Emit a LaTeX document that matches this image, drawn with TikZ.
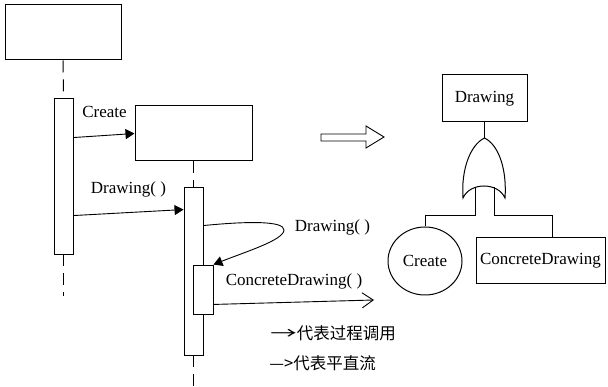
\documentclass[tikz,border=0pt]{standalone}
\usepackage{fontspec}
\usepackage{graphicx}
\setmainfont{Liberation Serif}
\newfontfamily\cjk{Noto Sans CJK SC}
\usetikzlibrary{arrows.meta,calc,shapes.geometric}
\begin{document}
\begin{tikzpicture}[x=1pt,y=-1pt,
  line width=0.9pt,
  box/.style={draw,line width=1pt,inner sep=0pt},
  bar/.style={draw,line width=0.9pt,fill=white,inner sep=0pt,minimum width=19pt},
  lifeline/.style={line width=1pt,dash pattern=on 12pt off 7pt},
  call/.style={-{Triangle[length=9pt,width=10pt]}},
  flow/.style={-{Straight Barb[length=11pt,width=15pt,line width=0.9pt]}},
  lbl/.style={font=\fontsize{17}{19}\selectfont,inner sep=0pt},
  leg/.style={font=\cjk\fontsize{16.5}{18}\selectfont,inner sep=0pt,anchor=west}]
\useasboundingbox (0,0) rectangle (608,387);
% left sequence part
\node[box,minimum width=116pt,minimum height=55pt] (obj1) at (63,32.5) {};
\node[bar,minimum height=156pt] (bar1) at (63.5,176) {};
\node[box,minimum width=117pt,minimum height=55pt] (obj2) at (193.5,133.5) {};
\node[bar,minimum height=168pt] (bar2) at (193.5,271) {};
\node[bar,minimum width=20pt,minimum height=49pt] (bar3) at (203,289.5) {};
\coordinate (end1) at (63.5,296);
\coordinate (end2) at (193.5,387);
\draw[lifeline] (obj1.south) -- (bar1.north);
\draw[lifeline] (obj2.south) -- (bar2.north);
\draw[lifeline] (bar1.south) -- (end1);
\draw[lifeline] (bar2.south) -- (end2);
\draw[call] ($(bar1.north east)+(0,40)$) -- (obj2.west);
\draw[call] ($(bar1.north east)+(0,118)$) -- ($(bar2.north west)+(0,23)$);
\coordinate (loopturn) at (284,230);
\draw[call] ($(bar2.north east)+(0,39)$) .. controls (250,221) and (284,221) .. (loopturn)
   .. controls (284,240) and (245,252) .. (bar3.north east);
\coordinate (cdend) at (374,300);
\draw[flow] ($(bar3.south east)+(0,-10)$) -- (cdend);
\node[lbl] (tcreate) at (104.5,112) {Create};
\node[lbl] (tdraw1) at (128.5,189) {Drawing( )};
\node[lbl] (tdraw2) at (332.5,227) {Drawing( )};
\node[lbl] (tconc) at (294,281) {ConcreteDrawing( )};
% legend
\node[leg] (leg1) at (270,333) {\scalebox{1.6}[1]{→}代表过程调用};
\node[leg] (leg2) at (269,363) {—>代表平直流};
% hollow arrow
\draw[line width=0.9pt] (321,134) -- (366,134) -- (366,126) -- (384,137) -- (366,148) -- (366,141) -- (321,141) -- cycle;
% right tree
\node[box,minimum width=85pt,minimum height=47pt,lbl] (drawing) at (484.5,98.5) {Drawing};
\node[draw,ellipse,line width=1pt,minimum width=74pt,minimum height=68pt,inner sep=0pt,lbl] (create) at (425,261) {Create};
\node[box,minimum width=129pt,minimum height=46pt,lbl] (concrete) at (540.5,261) {ConcreteDrawing};
\coordinate (apex) at (484.5,138);
\coordinate (gl) at (463,198);
\coordinate (gr) at (505,198);
\coordinate (legL) at (475,187);
\coordinate (legR) at (494,187);
\coordinate (footL) at (475,215);
\coordinate (footR) at (494,215);
\draw (drawing.south) -- (apex);
\draw[line width=1pt] (apex) .. controls (470,145) and (461,170) .. (gl)
   .. controls (470,182) and (498,182) .. (gr)
   .. controls (507,170) and (499,145) .. (apex);
\draw (legL) -- (footL) -| (create.north);
\draw (legR) -- (footR) -| (concrete.north -| 552,0);
\end{tikzpicture}
\end{document}
